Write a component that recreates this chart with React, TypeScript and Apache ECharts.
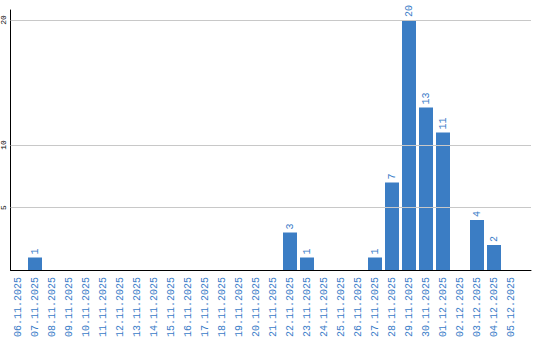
import React, { useEffect, useRef } from "react";
import * as echarts from "echarts";

const categories = [
  "06.11.2025", "07.11.2025", "08.11.2025", "09.11.2025", "10.11.2025",
  "11.11.2025", "12.11.2025", "13.11.2025", "14.11.2025", "15.11.2025",
  "16.11.2025", "17.11.2025", "18.11.2025", "19.11.2025", "20.11.2025",
  "21.11.2025", "22.11.2025", "23.11.2025", "24.11.2025", "25.11.2025",
  "26.11.2025", "27.11.2025", "28.11.2025", "29.11.2025", "30.11.2025",
  "01.12.2025", "02.12.2025", "03.12.2025", "04.12.2025", "05.12.2025",
];
const values = [
  0, 1, 0, 0, 0, 0, 0, 0, 0, 0,
  0, 0, 0, 0, 0, 0, 3, 1, 0, 0,
  0, 1, 7, 20, 13, 11, 0, 4, 2, 0,
];
const yTicks = [5, 10, 20];
const yMax = 20.8;

const BAR = "#3b7dc4";
const TEXT_BLUE = "#3a7cc8";
const FONT = "'Liberation Mono', monospace";

export default function App() {
  const ref = useRef<HTMLDivElement>(null);
  useEffect(() => {
    if (!ref.current) return;
    const chart = echarts.init(ref.current, null, { renderer: "svg" });
    chart.setOption({
      animation: false,
      backgroundColor: "#fff",
      grid: [
        { left: 10.5, right: 9, top: 10, bottom: 70, containLabel: false, outerBoundsMode: "none" },
        { left: 9.5, width: 510, top: 10, bottom: 70, containLabel: false, outerBoundsMode: "none" },
      ],
      xAxis: [
        {
          type: "value",
          gridIndex: 0,
          min: 0,
          max: 1,
          axisLine: { show: true, onZero: false, lineStyle: { color: "#000", width: 1 } },
          axisTick: { show: false },
          axisLabel: { show: false },
          splitLine: { show: false },
        },
        {
          type: "category",
          gridIndex: 1,
          data: categories,
          axisLine: { show: false },
          axisTick: { show: false },
          axisLabel: {
            interval: 0,
            rotate: 90,
            margin: 7,
            color: TEXT_BLUE,
            fontSize: 10,
            fontFamily: FONT,
          },
          splitLine: { show: false },
        },
      ],
      yAxis: [
        {
          type: "value",
          gridIndex: 0,
          min: 0,
          max: yMax,
          axisLine: { show: true, lineStyle: { color: "#000", width: 1 } },
          axisTick: { show: false },
          splitLine: { show: false },
          axisLabel: {
            customValues: yTicks,
            rotate: 90,
            margin: 3,
            color: "#000",
            fontSize: 8,
            fontFamily: FONT,
          },
        },
        {
          type: "value",
          gridIndex: 1,
          min: 0,
          max: yMax,
          show: false,
          splitLine: { show: false },
        },
      ],
      series: [
        {
          type: "line",
          xAxisIndex: 0,
          yAxisIndex: 0,
          data: [],
          z: 1,
          silent: true,
          markLine: {
            silent: true,
            symbol: "none",
            label: { show: false },
            lineStyle: { color: "#c8c8c8", type: "solid", width: 1 },
            data: yTicks.map((v) => ({ yAxis: v })),
          },
        },
        {
          type: "bar",
          xAxisIndex: 1,
          yAxisIndex: 1,
          data: values,
          barWidth: 14,
          z: 3,
          itemStyle: { color: BAR },
          label: {
            show: true,
            position: "top",
            rotate: 90,
            align: "left",
            verticalAlign: "middle",
            distance: 3,
            color: TEXT_BLUE,
            fontSize: 10,
            fontFamily: FONT,
            formatter: (p: any) => (p.value ? String(p.value) : ""),
          },
        },
      ],
    });
    return () => chart.dispose();
  }, []);
  return (
    <div
      ref={ref}
      style={{ position: "fixed", left: 0, top: 0, width: 540, height: 340 }}
    />
  );
}
